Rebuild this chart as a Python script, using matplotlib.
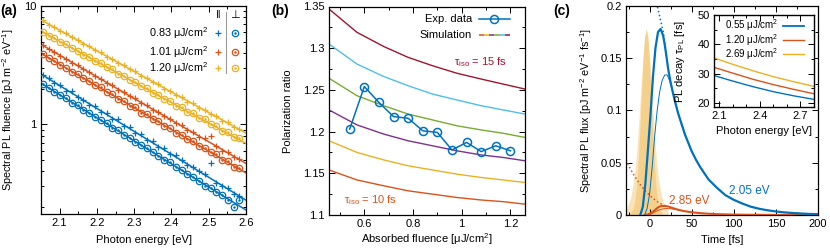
import matplotlib
matplotlib.use('Agg')
import matplotlib.pyplot as plt
from matplotlib.ticker import MultipleLocator, FixedLocator, FuncFormatter, NullFormatter, LogLocator

plt.rcParams['font.family'] = ['Liberation Sans', 'DejaVu Sans']
plt.rcParams['mathtext.fontset'] = 'custom'
plt.rcParams['mathtext.rm'] = 'Liberation Sans'
plt.rcParams['mathtext.it'] = 'Liberation Sans:italic'
plt.rcParams['mathtext.bf'] = 'Liberation Sans:bold'
plt.rcParams['font.size'] = 8

BLUE = '#0072BD'; ORANGE = '#D95319'; YELLOW = '#EDB120'
PURPLE = '#7E2F8E'; GREEN = '#77AC30'; CYAN = '#4DBEEE'; DARKRED = '#A2142F'

# ---------------- panel (a) data ----------------
energy = [2.055, 2.071, 2.086, 2.102, 2.117, 2.133, 2.148, 2.164, 2.179, 2.195,
          2.210, 2.226, 2.241, 2.257, 2.272, 2.288, 2.303, 2.319, 2.334, 2.350,
          2.365, 2.381, 2.396, 2.412, 2.427, 2.443, 2.458, 2.474, 2.489, 2.505,
          2.520, 2.536, 2.551, 2.567, 2.582]
par_083 = [2.62, 2.48, 2.22, 2.15, 1.92, 1.90, 1.70, 1.62, 1.47, 1.44, 1.28, 1.25, 1.12, 1.10,
           0.97, 0.95, 0.85, 0.83, 0.74, 0.73, 0.64, 0.63, 0.56, 0.55, 0.50, 0.45, 0.44, 0.40,
           0.38, 0.47, 0.32, 0.30, 0.29, 0.26, 0.25]
perp_083 = [2.20, 2.02, 1.88, 1.78, 1.66, 1.52, 1.45, 1.33, 1.26, 1.15, 1.08, 1.02, 0.93, 0.89,
            0.82, 0.77, 0.71, 0.67, 0.63, 0.58, 0.54, 0.50, 0.48, 0.44, 0.41, 0.38, 0.36, 0.33,
            0.30, 0.29, 0.27, 0.255, 0.23, 0.20, 0.23]
par_101 = [4.70, 4.30, 4.12, 3.80, 3.60, 3.33, 3.18, 2.92, 2.78, 2.55, 2.44, 2.25, 2.14, 1.97,
           1.88, 1.73, 1.66, 1.52, 1.46, 1.33, 1.28, 1.17, 1.12, 1.03, 0.99, 0.90, 0.87, 0.79,
           0.76, 0.80, 0.66, 0.60, 0.59, 0.53, 0.51]
perp_101 = [3.92, 3.62, 3.45, 3.18, 3.02, 2.79, 2.65, 2.45, 2.33, 2.14, 2.05, 1.88, 1.80, 1.65,
            1.58, 1.44, 1.39, 1.26, 1.22, 1.10, 1.07, 0.97, 0.94, 0.85, 0.82, 0.75, 0.72, 0.66,
            0.63, 0.58, 0.56, 0.50, 0.49, 0.44, 0.43]
par_120 = [7.55, 6.95, 6.65, 6.15, 5.88, 5.42, 5.20, 4.78, 4.58, 4.22, 4.06, 3.73, 3.58, 3.30,
           3.17, 2.91, 2.80, 2.57, 2.47, 2.27, 2.19, 2.00, 1.93, 1.77, 1.71, 1.56, 1.51, 1.38,
           1.33, 1.22, 1.17, 1.07, 1.04, 0.95, 0.92]
perp_120 = [6.05, 5.62, 5.36, 4.97, 4.74, 4.39, 4.20, 3.88, 3.72, 3.43, 3.29, 3.04, 2.91, 2.68,
            2.58, 2.37, 2.28, 2.09, 2.01, 1.85, 1.78, 1.64, 1.58, 1.44, 1.40, 1.28, 1.24, 1.13,
            1.10, 1.00, 0.97, 0.88, 0.86, 0.78, 0.76]
fit_energy = [2.05, 2.6]
fit_par_083 = [2.66, 0.229]
fit_perp_083 = [2.23, 0.189]
fit_par_101 = [4.74, 0.468]
fit_perp_101 = [3.98, 0.389]
fit_par_120 = [7.62, 0.843]
fit_perp_120 = [6.15, 0.69]
fluence_labels_a = ['0.83 μJ/cm$^2$', '1.01 μJ/cm$^2$', '1.20 μJ/cm$^2$']

# ---------------- panel (b) data ----------------
exp_fluence = [0.54, 0.60, 0.66, 0.72, 0.78, 0.84, 0.90, 0.96, 1.02, 1.08, 1.14, 1.20]
exp_ratio = [1.203, 1.254, 1.235, 1.218, 1.216, 1.201, 1.199, 1.178, 1.187, 1.176, 1.183, 1.177]
sim_fluence = [0.455, 0.57, 0.68, 0.78, 0.88, 0.98, 1.08, 1.17, 1.26]
sim_10fs = [1.154, 1.142, 1.135, 1.129, 1.125, 1.121, 1.118, 1.116, 1.113]
sim_11fs = [1.189, 1.175, 1.166, 1.159, 1.154, 1.149, 1.145, 1.142, 1.139]
sim_12fs = [1.226, 1.208, 1.197, 1.189, 1.183, 1.177, 1.172, 1.169, 1.165]
sim_13fs = [1.264, 1.243, 1.231, 1.221, 1.214, 1.207, 1.202, 1.198, 1.193]
sim_14fs = [1.305, 1.281, 1.266, 1.255, 1.245, 1.238, 1.231, 1.226, 1.221]
sim_15fs = [1.347, 1.319, 1.302, 1.289, 1.279, 1.270, 1.263, 1.257, 1.251]

# ---------------- panel (c) data ----------------
pump_t = [-24, -20, -18, -16, -14, -12, -10, -8, -6, -4, -2, 0, 2, 4, 6, 8, 10, 12, 16]
pump_core = [0.0007, 0.0051, 0.0117, 0.0241, 0.0444, 0.0732, 0.108, 0.143, 0.168, 0.178,
             0.168, 0.143, 0.108, 0.0732, 0.0444, 0.0241, 0.0117, 0.0051, 0.0007]
wing_t = [-30, -26, -22, -18, -16, -14, -12, -10, -8, -6, -4, -2, 0, 2, 4, 6, 8, 10, 14, 18, 22]
pump_wing = [0.0039, 0.0085, 0.0184, 0.0385, 0.0543, 0.0748, 0.0995, 0.127, 0.152, 0.171,
             0.178, 0.171, 0.152, 0.127, 0.0995, 0.0748, 0.0543, 0.0385, 0.0184, 0.0085, 0.0039]
blue_t = [-11, -8, -5, -2, 1, 4, 7, 10, 13, 16, 18, 20, 22, 25, 28, 31, 34, 38, 42, 46, 50,
          55, 60, 70, 80, 90, 100, 110, 120, 130, 140, 150, 160, 170, 180, 190, 200]
blue_thick = [0.0, 0.008, 0.03, 0.062, 0.095, 0.132, 0.160, 0.175, 0.178, 0.172, 0.163, 0.152,
              0.140, 0.127, 0.116, 0.106, 0.097, 0.087, 0.077, 0.069, 0.061, 0.053, 0.046, 0.034,
              0.026, 0.019, 0.0145, 0.011, 0.008, 0.006, 0.0045, 0.0034, 0.0025, 0.0019, 0.0014,
              0.001, 0.0008]
blue_thin_t = [-6, -3, 0, 3, 6, 9, 12, 15, 18, 21, 24, 27, 30, 33, 36, 40, 45, 50]
blue_thin = [0.0, 0.006, 0.02, 0.045, 0.075, 0.100, 0.118, 0.129, 0.134, 0.134, 0.128, 0.119,
             0.110, 0.101, 0.092, 0.083, 0.071, 0.061]
blue_dot_t = [6, 8, 10, 12, 14, 16, 18, 20]
blue_dot = [0.212, 0.204, 0.197, 0.190, 0.183, 0.176, 0.165, 0.152]
orange_t = [-6, -2, 2, 6, 10, 13, 16, 20, 22, 25, 30, 35, 40, 50, 60, 70, 80, 100, 120, 150, 200]
orange_thick = [0.0, 0.0005, 0.002, 0.0045, 0.0072, 0.0084, 0.0087, 0.0084, 0.0082, 0.0073,
                0.0060, 0.0048, 0.0039, 0.0026, 0.0018, 0.0012, 0.0008, 0.0004, 0.0002, 0.0001, 0.0]
orange_thin_t = [-4, 0, 4, 8, 12, 16, 20, 25, 30, 35, 40]
orange_thin = [0.0, 0.0005, 0.0018, 0.0036, 0.0050, 0.0059, 0.0062, 0.0060, 0.0054, 0.0047, 0.0039]
orange_dot_t = [-28, -24, -20, -16, -12, -8, -4, 0, 4, 8, 12, 16, 20]
orange_dot = [0.053, 0.046, 0.040, 0.035, 0.030, 0.026, 0.022, 0.019, 0.016, 0.0135, 0.0113,
              0.0096, 0.0085]
# inset
inset_energy = [2.06, 2.2, 2.35, 2.5, 2.65, 2.8]
tau_055 = [29.4, 27.5, 25.6, 23.9, 22.5, 21.3]
tau_120 = [32.2, 30.2, 28.1, 26.3, 24.7, 23.2]
tau_269 = [35.4, 33.2, 31.0, 29.0, 27.3, 25.7]
inset_labels = ['0.55 μJ/cm$^2$', '1.20 μJ/cm$^2$', '2.69 μJ/cm$^2$']

W, H = 830, 250
fig = plt.figure(figsize=(W / 100, H / 100), dpi=100)


def px_axes(l, t, r, b):
    return fig.add_axes([l / W, 1 - b / H, (r - l) / W, (b - t) / H])


def style(ax, lw=0.9):
    ax.tick_params(which='both', direction='in', top=True, right=True, width=0.7, pad=3)
    ax.tick_params(which='major', length=4)
    ax.tick_params(which='minor', length=2)
    for s in ax.spines.values():
        s.set_linewidth(lw)


def place_labels(ax, xl_y, yl_x):
    ax.xaxis.label.set_verticalalignment('baseline')
    ax.xaxis.set_label_coords(0.5, xl_y)
    ax.yaxis.label.set_verticalalignment('center')
    ax.yaxis.set_label_coords(yl_x, 0.5)


gfmt = FuncFormatter(lambda v, p: '%g' % v)

# ================= (a) =================
ax1 = px_axes(41, 6, 246, 214)
ax1.set_yscale('log')
ax1.set_xlim(2.05, 2.6)
ax1.set_ylim(0.175, 10)
cols = [BLUE, ORANGE, YELLOW]
pars = [par_083, par_101, par_120]
perps = [perp_083, perp_101, perp_120]
fpars = [fit_par_083, fit_par_101, fit_par_120]
fperps = [fit_perp_083, fit_perp_101, fit_perp_120]
for c, pa, pe, fpa, fpe in zip(cols, pars, perps, fpars, fperps):
    ax1.plot(fit_energy, fpa, color=c, lw=1.1, zorder=2)
    ax1.plot(fit_energy, fpe, color=c, lw=1.1, zorder=2)
    ax1.plot(energy, pa, '+', color=c, ms=5, mew=0.9, zorder=3)
    ax1.plot(energy, pe, 'o', mfc='none', mec=c, ms=4.6, mew=0.9, zorder=3)
    ax1.plot(energy, pe, '.', color=c, ms=1.6, zorder=3)
ax1.xaxis.set_major_locator(MultipleLocator(0.1))
ax1.xaxis.set_minor_locator(MultipleLocator(0.05))
ax1.xaxis.set_major_formatter(gfmt)
ax1.yaxis.set_major_locator(FixedLocator([1, 10]))
ax1.yaxis.set_major_formatter(gfmt)
ax1.yaxis.set_minor_locator(LogLocator(base=10, subs=[2, 3, 4, 5, 6, 7, 8, 9]))
ax1.yaxis.set_minor_formatter(NullFormatter())
style(ax1)
ax1.set_xlabel('Photon energy [eV]')
ax1.set_ylabel('Spectral PL fluence [pJ m$^{-2}$ eV$^{-1}$]', fontsize=7.8)
place_labels(ax1, -0.139, -0.161)
# legend table
tr = ax1.transAxes
ax1.text(0.863, 0.957, '‖', transform=tr, ha='center', va='center', fontsize=8)
ax1.text(0.946, 0.957, '⊥', transform=tr, ha='center', va='center', fontsize=8)
ax1.plot([0.902, 0.902], [0.678, 0.971], transform=tr, color='#999999', lw=0.8)
for lab, c, yy in zip(fluence_labels_a, cols, [0.869, 0.780, 0.703]):
    ax1.text(0.815, yy, lab, transform=tr, ha='right', va='center', fontsize=7.8)
    ax1.plot([0.863], [yy], '+', color=c, ms=5, mew=0.9, transform=tr)
    ax1.plot([0.946], [yy], 'o', mfc='none', mec=c, ms=4.6, mew=0.9, transform=tr)
    ax1.plot([0.946], [yy], '.', color=c, ms=1.6, transform=tr)
fig.text(0 / W, 1 - 11 / H, '(a)', fontsize=10, fontweight='bold', ha='left', va='center')

# ================= (b) =================
ax2 = px_axes(329, 6.5, 525, 215)
ax2.set_xlim(0.455, 1.26)
ax2.set_ylim(1.1, 1.35)
sims = [sim_10fs, sim_11fs, sim_12fs, sim_13fs, sim_14fs, sim_15fs]
sim_cols = [ORANGE, YELLOW, PURPLE, GREEN, CYAN, DARKRED]
for s, c in zip(sims, sim_cols):
    ax2.plot(sim_fluence, s, color=c, lw=1.0, zorder=2)
ax2.plot(exp_fluence, exp_ratio, '-o', color=BLUE, mfc='none', mec=BLUE, ms=5.8, mew=1.1,
         lw=1.1, zorder=3)
ax2.xaxis.set_major_locator(MultipleLocator(0.2))
ax2.xaxis.set_minor_locator(MultipleLocator(0.1))
ax2.yaxis.set_major_locator(MultipleLocator(0.05))
ax2.yaxis.set_minor_locator(MultipleLocator(0.025))
ax2.xaxis.set_major_formatter(gfmt)
ax2.yaxis.set_major_formatter(gfmt)
style(ax2)
ax2.set_xlabel('Absorbed fluence [μJ/cm$^2$]')
ax2.set_ylabel('Polarization ratio')
place_labels(ax2, -0.134, -0.209)
tr = ax2.transAxes
ax2.text(0.73, 0.94, 'Exp. data', transform=tr, ha='right', va='center')
ax2.plot([0.765, 0.923], [0.94, 0.94], color=BLUE, lw=1.1, transform=tr)
ax2.plot([0.844], [0.94], 'o', mfc='none', mec=BLUE, ms=5.8, mew=1.1, transform=tr)
ax2.text(0.73, 0.863, 'Simulation', transform=tr, ha='right', va='center')
seg = (0.923 - 0.765) / 6
for i, c in enumerate(sim_cols):
    ax2.plot([0.765 + i * seg, 0.765 + (i + 1) * seg], [0.863, 0.863], color=c, lw=1.1,
             transform=tr, solid_capstyle='butt')
ax2.text(1.077, 1.283, 'τ$_{\\rm iso}$ = 15 fs', color=DARKRED, ha='center', va='center')
ax2.text(0.625, 1.118, 'τ$_{\\rm iso}$ = 10 fs', color=ORANGE, ha='center', va='center')
fig.text(271 / W, 1 - 11 / H, '(b)', fontsize=10, fontweight='bold', ha='left', va='center')

# ================= (c) =================
ax3 = px_axes(626, 6, 818, 215)
ax3.set_xlim(-28, 200)
ax3.set_ylim(0, 0.2)
ax3.fill_between(wing_t, 0, pump_wing, color='#F9E4BA', lw=0, zorder=1)
ax3.fill_between(pump_t, 0, pump_core, color='#F4D08A', lw=0, zorder=1)
ax3.plot(orange_dot_t, orange_dot, ':', color=ORANGE, lw=1.1, zorder=2)
ax3.plot(blue_dot_t, blue_dot, ':', color=BLUE, lw=1.1, zorder=2)
ax3.plot(orange_thin_t, orange_thin, color=ORANGE, lw=0.7, zorder=3)
ax3.plot(orange_t, orange_thick, color=ORANGE, lw=1.5, zorder=3)
ax3.plot(blue_thin_t, blue_thin, color=BLUE, lw=0.7, zorder=3)
ax3.plot(blue_t, blue_thick, color=BLUE, lw=1.6, zorder=4)
ax3.xaxis.set_major_locator(MultipleLocator(50))
ax3.xaxis.set_minor_locator(MultipleLocator(25))
ax3.yaxis.set_major_locator(MultipleLocator(0.05))
ax3.yaxis.set_minor_locator(MultipleLocator(0.025))
ax3.xaxis.set_major_formatter(gfmt)
ax3.yaxis.set_major_formatter(gfmt)
style(ax3)
ax3.set_xlabel('Time [fs]')
ax3.set_ylabel('Spectral PL flux [pJ m$^{-2}$ eV$^{-1}$ fs$^{-1}$]', fontsize=7.8)
place_labels(ax3, -0.134, -0.208)
ax3.text(118, 0.023, '2.05 eV', color=BLUE, ha='center', va='center', fontsize=8.5)
ax3.text(47, 0.0135, '2.85 eV', color=ORANGE, ha='center', va='center', fontsize=8.5)
fig.text(553 / W, 1 - 11 / H, '(c)', fontsize=10, fontweight='bold', ha='left', va='center')

# inset
ax4 = px_axes(714, 15, 814, 107)
ax4.set_facecolor('white')
ax4.set_xlim(2.06, 2.8)
ax4.set_ylim(18.7, 50)
for vals, c in zip([tau_055, tau_120, tau_269], [BLUE, ORANGE, YELLOW]):
    ax4.plot(inset_energy, vals, color=c, lw=1.0)
ax4.xaxis.set_major_locator(FixedLocator([2.1, 2.4, 2.7]))
ax4.xaxis.set_minor_locator(MultipleLocator(0.1))
ax4.yaxis.set_major_locator(MultipleLocator(10))
ax4.yaxis.set_minor_locator(MultipleLocator(5))
ax4.xaxis.set_major_formatter(gfmt)
ax4.yaxis.set_major_formatter(gfmt)
style(ax4, lw=1.0)
ax4.set_xlabel('Photon energy [eV]')
ax4.set_ylabel('PL decay τ$_{\\rm PL}$ [fs]')
place_labels(ax4, -0.29, -0.34)
tr = ax4.transAxes
for lab, c, yy in zip(inset_labels, [BLUE, ORANGE, YELLOW], [0.885, 0.728, 0.571]):
    ax4.text(0.64, yy, lab, transform=tr, ha='right', va='center', fontsize=7)
    ax4.plot([0.69, 0.90], [yy, yy], color=c, lw=1.3 if c == BLUE else 1.0, transform=tr)

fig.savefig('out.png', dpi=100)
